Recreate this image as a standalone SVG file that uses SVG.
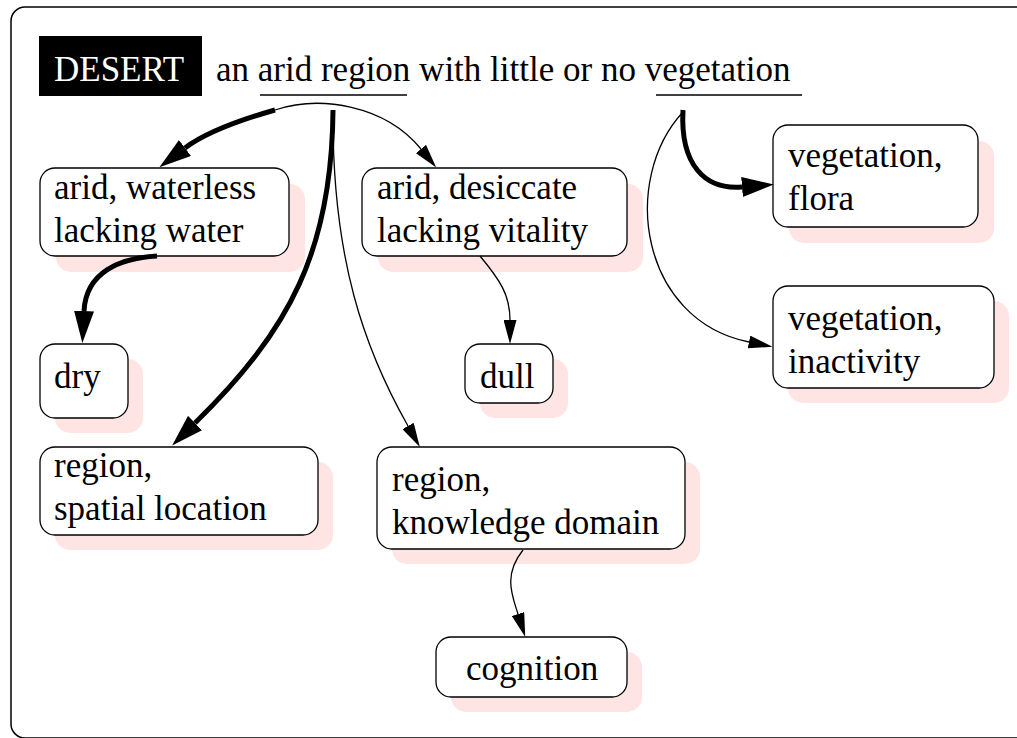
<svg xmlns="http://www.w3.org/2000/svg" width="1017" height="738" viewBox="0 0 1017 738">
<defs>
<style>
.t{font-family:"Liberation Serif","Times New Roman",serif;font-size:35px;fill:#000}
.box{fill:#fff;stroke:#000;stroke-width:1.3}
.sh{fill:#ffe4e4;stroke:none}
.thin{fill:none;stroke:#000;stroke-width:1.3}
.thick{fill:none;stroke:#000;stroke-width:5}
</style>
<marker id="ah" markerUnits="userSpaceOnUse" markerWidth="24" markerHeight="13" refX="0" refY="6.5" orient="auto"><path d="M0,0 L24,6.5 L0,13 z" fill="#000"/></marker>
<marker id="ahb" markerUnits="userSpaceOnUse" markerWidth="32" markerHeight="20" refX="0" refY="10" orient="auto"><path d="M0,0 L32,10 L0,20 z" fill="#000"/></marker>
</defs>
<rect x="0" y="0" width="1017" height="738" fill="#fff"/>
<rect x="11" y="7" width="1030" height="731" rx="14" fill="none" stroke="#000" stroke-width="1.5"/>

<g id="header">
<rect x="39" y="36" width="163" height="60" fill="#000"/>
<text class="t" x="54" y="81" style="fill:#fff">DESERT</text>
<text class="t" x="216" y="81">an arid region with little or no vegetation</text>
<line x1="260" y1="95" x2="407" y2="95" stroke="#000" stroke-width="1.3"/>
<line x1="656" y1="95" x2="802" y2="95" stroke="#000" stroke-width="1.3"/>
</g>

<g id="n-arid-waterless">
<rect class="sh" x="56" y="184" width="249" height="88" rx="15"/>
<rect class="box" x="40" y="168" width="249" height="88" rx="15"/>
<text class="t" x="54" y="199">arid, waterless</text>
<text class="t" x="54" y="242">lacking water</text>
</g>

<g id="n-arid-desiccate">
<rect class="sh" x="378" y="184" width="265" height="88" rx="15"/>
<rect class="box" x="362" y="168" width="265" height="88" rx="15"/>
<text class="t" x="377" y="199">arid, desiccate</text>
<text class="t" x="377" y="242">lacking vitality</text>
</g>

<g id="n-veg-flora">
<rect class="sh" x="789" y="141" width="205" height="102" rx="15"/>
<rect class="box" x="773" y="125" width="205" height="102" rx="15"/>
<text class="t" x="788" y="167">vegetation,</text>
<text class="t" x="788" y="210">flora</text>
</g>

<g id="n-veg-inactivity">
<rect class="sh" x="788" y="301" width="221" height="102" rx="15"/>
<rect class="box" x="773" y="286" width="221" height="102" rx="15"/>
<text class="t" x="788" y="330">vegetation,</text>
<text class="t" x="788" y="373">inactivity</text>
</g>

<g id="n-dry">
<rect class="sh" x="55" y="359" width="88" height="74" rx="15"/>
<rect class="box" x="40" y="344" width="88" height="74" rx="15"/>
<text class="t" x="54" y="388">dry</text>
</g>

<g id="n-dull">
<rect class="sh" x="480" y="359" width="88" height="59" rx="15"/>
<rect class="box" x="465" y="344" width="88" height="59" rx="15"/>
<text class="t" x="480" y="388">dull</text>
</g>

<g id="n-region-spatial">
<rect class="sh" x="55" y="462" width="278" height="88" rx="15"/>
<rect class="box" x="40" y="447" width="278" height="88" rx="15"/>
<text class="t" x="54" y="477">region,</text>
<text class="t" x="54" y="520">spatial location</text>
</g>

<g id="n-region-knowledge">
<rect class="sh" x="392" y="462" width="308" height="102" rx="15"/>
<rect class="box" x="377" y="447" width="308" height="102" rx="15"/>
<text class="t" x="392" y="491">region,</text>
<text class="t" x="392" y="534">knowledge domain</text>
</g>

<g id="n-cognition">
<rect class="sh" x="451" y="652" width="191" height="60" rx="15"/>
<rect class="box" x="436" y="637" width="191" height="60" rx="15"/>
<text class="t" x="466" y="680">cognition</text>
</g>

<g id="connectors">
<path class="thick" d="M275,110 C240,120 205,133 185,148" marker-end="url(#ahb)"/>
<path class="thin" d="M275,110 C320,95 385,105 421,149" marker-end="url(#ah)"/>
<path class="thick" d="M333,110 C332,250 290,330 195,423" marker-end="url(#ahb)"/>
<path class="thin" d="M333,112 C332,260 365,350 408,426" marker-end="url(#ah)"/>
<path class="thick" d="M157,256 C120,258 86,272 84,311" marker-end="url(#ahb)"/>
<path class="thin" d="M480,256 C500,280 510,295 510,320" marker-end="url(#ah)"/>
<path class="thin" d="M523,550 C503,575 512,595 518,614" marker-end="url(#ah)"/>
<path class="thick" d="M683,110 C680,165 705,190 742,187" marker-end="url(#ahb)"/>
<path class="thin" d="M683,112 C620,180 640,320 749,342" marker-end="url(#ah)"/>
</g>
</svg>
